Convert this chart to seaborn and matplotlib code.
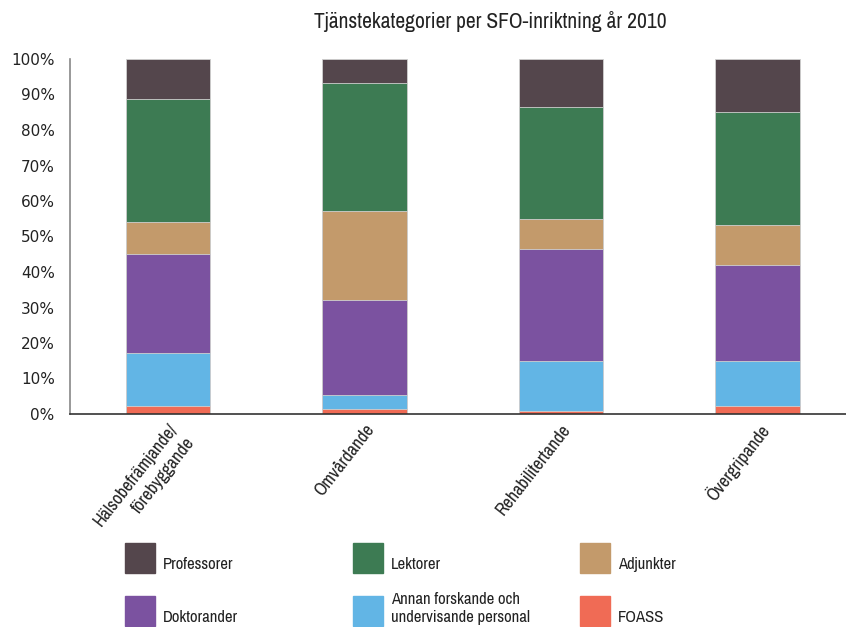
import matplotlib
matplotlib.use('Agg')
import matplotlib.pyplot as plt
from matplotlib import font_manager as fm
from matplotlib.patches import Rectangle
import seaborn as sns
import pandas as pd
import numpy as np

categories = ['Hälsobefrämjande/\nförebyggande', 'Omvårdande', 'Rehabilitertande', 'Övergripande']

# share per staff category (%), bottom to top
foass = [2.2, 1.4, 0.8, 2.2]
annan = [15.1, 3.9, 14.2, 12.8]
doktorander = [27.7, 26.9, 31.6, 27.0]
adjunkter = [9.1, 24.9, 8.2, 11.3]
lektorer = [34.5, 36.0, 31.6, 31.7]
professorer = [11.4, 6.9, 13.6, 15.0]

series = ['FOASS', 'Annan forskande och\nundervisande personal', 'Doktorander',
          'Adjunkter', 'Lektorer', 'Professorer']
colors = {'Professorer': '#54464c', 'Lektorer': '#3d7b53', 'Adjunkter': '#c39a6b',
          'Doktorander': '#7b52a0', 'Annan forskande och\nundervisande personal': '#62b5e5',
          'FOASS': '#f06b55'}

df = pd.DataFrame({'FOASS': foass,
                   'Annan forskande och\nundervisande personal': annan,
                   'Doktorander': doktorander, 'Adjunkter': adjunkter,
                   'Lektorer': lektorer, 'Professorer': professorer},
                  index=categories)
cum = df.cumsum(axis=1)

sns.set_style('white')

# pick a narrow font if one is installed
narrow = dict(family=['DejaVu Sans'], stretch='condensed')
for f in fm.fontManager.ttflist:
    if 'Narrow' in f.name:
        narrow = dict(family=[f.name, 'DejaVu Sans'])
        break
    if 'Condensed' in f.name or f.stretch in ('condensed', 'semi-condensed', 600, 500):
        narrow = dict(family=[f.name, 'DejaVu Sans'], stretch=f.stretch)

fig = plt.figure(figsize=(8.46, 6.27), dpi=100)
ax = fig.add_axes([70 / 846, 1 - 414 / 627, 1 - 70 / 846, (414 - 59) / 627])

# draw cumulative bars from top down so lower segments overlay
for s in series[::-1]:
    sns.barplot(x=list(range(len(categories))), y=cum[s].values, color=colors[s],
                width=0.43, edgecolor='#d0d0d0', linewidth=0.6, ax=ax,
                native_scale=True, saturation=1)

ax.set_xlim(-0.5, 3.45)
ax.set_ylim(0, 100)
ax.set_yticks(np.arange(0, 101, 10))
ax.set_yticklabels([f'{v}%' for v in range(0, 101, 10)], fontsize=11, color='#222222')
ax.set_xticks(range(len(categories)))
ax.set_xticklabels(categories, rotation=52, ha='right', rotation_mode='anchor',
                   fontsize=13, color='#222222', **narrow)
for t in ax.get_xticklabels():
    t.set_linespacing(1.45)
ax.set_xticks([-0.5, 0.5, 1.5, 2.5], minor=True)
ax.tick_params(axis='x', which='major', length=0, pad=5)
ax.tick_params(axis='x', which='minor', length=8, width=1, color='#555555', direction='out')
ax.tick_params(axis='y', length=5, width=1, color='#888888', direction='out', pad=6)

for side in ['top', 'right']:
    ax.spines[side].set_visible(False)
ax.spines['left'].set_color('#888888')
ax.spines['left'].set_linewidth(1.2)
ax.spines['bottom'].set_color('#333333')
ax.spines['bottom'].set_linewidth(1.2)

fig.text(490 / 846, 1 - 22 / 627, 'Tjänstekategorier per SFO-inriktning år 2010',
         ha='center', va='center', fontsize=15.5, color='#222222', **narrow)

# legend: 3 columns, 2 rows
legend_order = ['Professorer', 'Lektorer', 'Adjunkter',
                'Doktorander', 'Annan forskande och\nundervisande personal', 'FOASS']
col_x = [125, 353, 580]
row_y = [573, 626]
for i, name in enumerate(legend_order):
    x0 = col_x[i % 3]
    yb = row_y[i // 3]
    fig.add_artist(Rectangle((x0 / 846, 1 - yb / 627), 30 / 846, 30 / 627,
                             transform=fig.transFigure, color=colors[name]))
    fig.text((x0 + 38) / 846, 1 - (yb - 1) / 627, name, ha='left', va='bottom',
             fontsize=12, color='#222222', linespacing=1.25, **narrow)

fig.savefig('out.png', dpi=100)
